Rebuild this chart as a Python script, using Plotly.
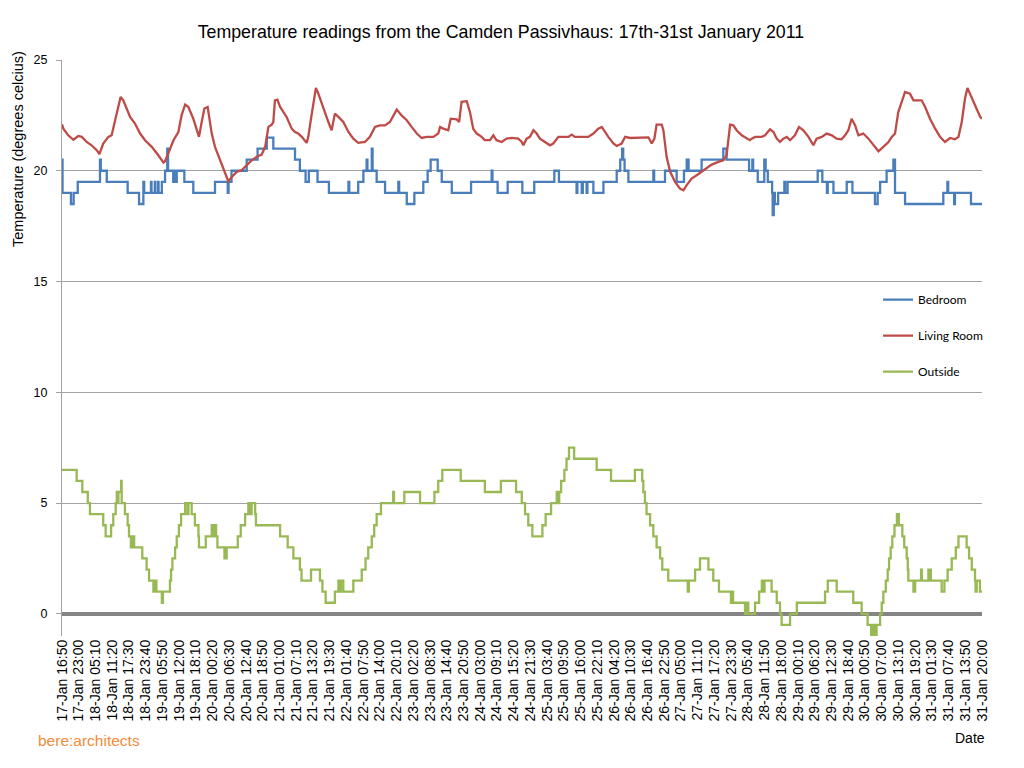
import pandas as pd
import plotly.graph_objects as go

START = "2011-01-17 16:50"
END = "2011-01-31 20:00"

# ---- Bedroom (hours since start, degrees C) ----
bed_hours = [0, 0.2, 3.3, 4.3, 5.8, 14.0, 14.3, 16.5, 24.2, 28.4, 30.0, 30.3, 32.8, 33.0, 34.2, 34.4,
             35.4, 35.6, 36.8, 38.0, 38.8, 39.1, 41.0, 41.3, 42.0, 42.3, 45.1, 48.4, 56.4, 61.1,
             61.4, 62.5, 68.1, 72.1, 75.5, 77.9, 85.9, 87.7, 89.8, 91.0, 94.2, 98.4, 105.6, 105.9,
             109.2, 111.1, 112.3, 112.6, 114.2, 114.5, 116.0, 119.1, 124.0, 124.3, 127.1, 129.9,
             133.2, 134.8, 135.9, 138.5, 140.0, 143.7, 150.8, 158.4, 158.7, 160.6, 164.3, 169.7,
             174.1, 181.5, 183.2, 189.7, 190.0, 191.6, 192.0, 193.4, 193.7, 195.9, 199.6, 204.5,
             205.8, 206.5, 206.9, 207.4, 208.8, 218.0, 218.3, 222.3, 226.6, 229.3, 230.3, 231.0,
             235.8, 243.8, 245.0, 253.3, 254.5, 254.8, 256.5, 258.9, 259.4, 260.2, 261.8, 262.0,
             262.4, 262.8, 264.0, 266.3, 266.6, 267.5, 278.6, 280.3, 282.0, 282.3, 284.4, 289.3,
             291.4, 299.7, 300.7, 301.6, 304.0, 306.5, 307.1, 310.8, 324.9, 326.4, 326.7, 328.9,
             329.2, 335.1, 339.17]
bed_temp = [20.5, 19, 18.5, 19, 19.5, 20.5, 20, 19.5, 19, 18.5, 19.5, 19, 19.5, 19, 19.5, 19,
            19.5, 19, 19.5, 20, 21, 20, 19.5, 20, 19.5, 20, 19.5, 19, 19.5, 19,
            19.5, 20, 20.5, 21, 21.5, 21, 20.5, 20, 19.5, 20, 19.5, 19, 19.5, 19,
            19.5, 20, 20.5, 20, 21, 20, 19.5, 19, 19.5, 19, 18.5, 19,
            19.5, 20, 20.5, 20, 19.5, 19, 19.5, 20, 19.5, 19, 19.5, 19,
            19.5, 20, 19.5, 19, 19.5, 19, 19.5, 19, 19.5, 19, 19.5, 20,
            20.5, 21, 20.5, 20, 19.5, 20, 19.5, 20, 19.5, 20, 20.5, 20,
            20.5, 21, 20.5, 20, 20.5, 20, 19.5, 20.5, 20, 19.5, 19, 18,
            19, 18.5, 19, 19.5, 19, 19.5, 20, 19.5, 19, 19.5, 19, 19.5,
            19, 18.5, 19, 19.5, 20, 20.5, 19, 18.5, 19, 19.5, 19, 18.5,
            19, 18.5, 18.5]

# ---- Living Room ----
liv_hours = [0, 0.5, 2.3, 4.2, 6.0, 7.3, 9.1, 10.9, 12.8, 13.8, 15.2, 17.1, 18.3, 19.5, 20.8, 21.6,
             22.6, 23.8, 25.1, 26.9, 28.8, 30.6, 33.1, 35.5, 37.4, 38.0, 39.2, 41.1, 42.9, 44.1,
             45.4, 46.6, 48.4, 49.7, 50.5, 51.5, 52.5, 53.7, 54.2, 55.2, 56.4, 58.3, 60.1, 61.3,
             62.6, 64.4, 66.2, 68.1, 69.9, 71.8, 73.6, 74.9, 76.1, 77.3, 77.9, 78.5, 79.4, 80.4,
             81.6, 82.8, 84.7, 85.9, 87.1, 88.4, 90.2, 90.8, 91.8, 92.7, 93.6, 94.5, 95.7, 97.0,
             98.2, 99.4, 100.6, 101.9, 103.7, 105.6, 107.4, 109.2, 111.7, 113.5, 115.4, 117.2,
             119.1, 120.9, 122.1, 123.4, 125.2, 127.1, 128.9, 130.8, 132.6, 134.4, 136.9, 138.7,
             139.4, 140.6, 142.4, 143.3, 145.5, 146.4, 147.3, 149.2, 150.4, 151.6, 152.9, 154.7,
             155.9, 157.8, 159.0, 160.2, 162.1, 163.9, 165.8, 168.2, 169.5, 170.1, 171.3, 172.5,
             173.8, 175.0, 176.2, 178.1, 179.9, 181.1, 183.0, 186.7, 187.9, 189.1, 194.0, 195.9,
             197.7, 199.0, 200.2, 201.4, 203.3, 204.5, 206.3, 207.6, 209.4, 211.2, 213.7, 216.2,
             217.4, 218.4, 219.2, 221.1, 221.7, 222.9, 224.2, 226.0, 227.8, 229.1, 230.3, 232.1,
             234.0, 235.8, 237.7, 239.5, 242.0, 243.8, 245.0, 246.3, 247.5, 248.7, 250.6, 252.4,
             253.6, 254.3, 255.5, 258.0, 259.2, 261.0, 262.3, 263.5, 264.7, 265.9, 267.2, 268.4,
             270.2, 271.7, 273.3, 275.2, 277.0, 278.2, 280.1, 281.9, 283.8, 285.6, 287.4, 288.7,
             289.9, 291.1, 292.4, 293.6, 295.4, 297.3, 299.1, 301.0, 302.8, 304.7, 305.9, 307.1,
             308.3, 309.6, 310.8, 312.6, 313.9, 315.7, 316.9, 318.2, 320.0, 321.9, 323.7, 325.5,
             327.4, 329.2, 330.5, 331.7, 332.9, 333.8, 334.8, 336.6, 338.5, 339.17]
liv_temp = [22.1, 21.9, 21.6, 21.4, 21.57, 21.53, 21.3, 21.15, 20.93, 20.75, 21.23, 21.53, 21.6, 22.2, 22.96, 23.33,
            23.18, 22.81, 22.43, 22.13, 21.68, 21.38, 21.08, 20.7, 20.37, 20.43, 20.78, 21.38, 21.75, 22.51,
            22.99, 22.88, 22.35, 21.9, 21.53, 22.2, 22.81, 22.88, 22.51, 21.68, 21.08, 20.47, 19.95, 19.53,
            19.72, 19.95, 20.02, 20.25, 20.47, 20.63, 20.73, 21.08, 21.98, 22.08, 22.2, 23.18, 23.21, 22.88,
            22.65, 22.43, 21.9, 21.75, 21.68, 21.53, 21.26, 21.53, 22.35, 22.96, 23.74, 23.48, 23.03, 22.65,
            22.2, 21.83, 22.58, 22.43, 22.2, 21.75, 21.45, 21.26, 21.3, 21.53, 21.98, 22.05,
            22.05, 22.2, 22.5, 22.76, 22.5, 22.28, 21.98, 21.68, 21.48, 21.53, 21.53, 21.68,
            21.98, 21.9, 21.83, 22.35, 22.32, 22.2, 23.11, 23.14, 22.65, 21.9, 21.68, 21.53,
            21.38, 21.38, 21.6, 21.38, 21.3, 21.45, 21.48, 21.45, 21.3, 21.15, 21.45, 21.53,
            21.83, 21.68, 21.45, 21.3, 21.15, 21.23, 21.53, 21.53, 21.63, 21.53, 21.53, 21.68,
            21.9, 21.98, 21.75, 21.53, 21.23, 21.12, 21.23, 21.53, 21.48, 21.48, 21.51, 21.51,
            21.23, 21.45, 22.08, 22.08, 21.83, 20.63, 19.95, 19.5, 19.2, 19.12, 19.35, 19.65,
            19.8, 19.95, 20.1, 20.28, 20.4, 20.47, 20.7, 22.08, 22.05, 21.83, 21.6, 21.45,
            21.38, 21.45, 21.53, 21.53, 21.6, 21.87, 21.75, 21.45, 21.3, 21.45, 21.53, 21.38,
            21.6, 21.98, 21.83, 21.53, 21.15, 21.45, 21.53, 21.68, 21.6, 21.45, 21.42, 21.6,
            21.83, 22.35, 22.05, 21.6, 21.68, 21.45, 21.15, 20.88, 21.08, 21.3, 21.53, 21.68,
            22.65, 23.18, 23.56, 23.48, 23.18, 23.18, 23.18, 22.88, 22.35, 21.9, 21.53, 21.3,
            21.48, 21.42, 21.53, 22.2, 23.26, 23.74, 23.48, 22.96, 22.43, 22.35]

# ---- Outside ----
out_hours = [0, 5.4, 7.5, 9.5, 10.3, 15.2, 16.1, 18.1, 18.9, 19.8, 20.2, 20.5, 20.8, 21.8, 22.0, 23.2,
             24.2, 24.7, 25.4, 25.7, 26.0, 26.3, 26.6, 29.6, 31.2, 32.1, 33.7, 34.3, 34.8, 36.8,
             37.2, 39.8, 40.2, 40.7, 41.7, 42.3, 43.1, 43.9, 45.4, 46.3, 46.6, 47.8, 49.0, 50.3,
             50.5, 53.0, 55.2, 55.6, 56.0, 56.8, 57.3, 59.9, 60.7, 64.8, 65.9, 67.5, 68.7, 69.5,
             69.9, 71.2, 71.5, 80.4, 83.2, 85.3, 87.7, 88.3, 91.8, 95.1, 96.0, 97.2, 100.6, 101.9,
             102.3, 102.8, 103.7, 107.4, 110.5, 111.9, 112.9, 114.2, 115.1, 116.0, 117.6, 122.1,
             122.4, 126.2, 132.0, 137.3, 138.7, 140.2, 147.0, 155.9, 161.8, 167.4, 169.5, 170.7,
             171.9, 173.4, 177.1, 178.3, 180.3, 182.4, 183.0, 183.3, 184.0, 185.2, 186.0, 186.9,
             188.8, 197.1, 202.4, 211.2, 213.9, 214.3, 214.9, 215.5, 216.8, 218.0, 219.2, 220.5,
             221.3, 223.5, 230.7, 231.1, 233.4, 235.2, 238.3, 240.1, 242.2, 246.6, 247.0, 247.4,
             251.8, 252.3, 253.0, 255.5, 257.0, 258.0, 258.6, 259.0, 261.6, 263.5, 264.7, 265.3,
             268.4, 270.9, 281.3, 282.3, 285.6, 291.7, 294.8, 297.0, 298.3, 298.9, 299.5, 300.3,
             301.6, 302.2, 302.8, 303.7, 304.4, 304.9, 305.5, 306.1, 306.9, 307.8, 308.5, 309.8,
             310.5, 311.4, 311.8, 312.0, 313.9, 314.5, 316.7, 317.0, 319.4, 319.7, 320.0, 320.3,
             324.3, 325.3, 326.5, 328.0, 329.5, 330.5, 333.5, 334.4, 335.4, 336.6, 336.8, 337.2,
             338.4, 339.17]
out_temp = [6.5, 6, 5.5, 5, 4.5, 4, 3.5, 4, 4.5, 5, 5.5, 5, 5.5, 6, 5, 4.5,
            4, 3.5, 3, 3.5, 3, 3.5, 3, 2.5, 2, 1.5, 1, 1.5, 1, 0.5,
            1, 1.5, 2, 2.5, 3, 3.5, 4, 4.5, 5, 4.5, 5, 4.5, 4, 3.5,
            3, 3.5, 4, 3.5, 4, 3.5, 3, 2.5, 3, 3.5, 4, 4.5, 5, 4.5,
            5, 4.5, 4, 3.5, 3, 2.5, 2, 1.5, 2, 1.5, 1, 0.5, 1, 1.5,
            1, 1.5, 1, 1.5, 2, 2.5, 3, 3.5, 4, 4.5, 5, 5.5,
            5, 5.5, 5, 5.5, 6, 6.5, 6, 5.5, 6, 5.5, 5, 4.5,
            4, 3.5, 4, 4.5, 5, 5.5, 5, 5.5, 6, 6.5, 7, 7.5,
            7, 6.5, 6, 6.5, 6, 5.5, 5, 4.5, 4, 3.5, 3, 2.5,
            2, 1.5, 1, 1.5, 2, 2.5, 2, 1.5, 1, 0.5, 1, 0.5,
            0, 0.5, 0, 0.5, 1, 1.5, 1, 1.5, 1, 0.5, 0, -0.5,
            0, 0.5, 1, 1.5, 1, 0.5, 0, -0.5, -1, -0.5, -1, -0.5,
            0, 0.5, 1, 1.5, 2, 2.5, 3, 3.5, 4, 4.5, 4, 3.5,
            3, 2.5, 2, 1.5, 1, 1.5, 2, 1.5, 2, 1.5, 2, 1.5,
            1, 1.5, 2, 2.5, 3, 3.5, 3, 2.5, 2, 1.5, 1, 1.5,
            1, 1]

y_ticks = [0, 5, 10, 15, 20, 25]

start = pd.Timestamp(START)


def to_time(hours):
    return [start + pd.Timedelta(hours=h) for h in hours]


fig = go.Figure()
fig.add_trace(go.Scatter(x=to_time(bed_hours), y=bed_temp, name="Bedroom", mode="lines",
                         line=dict(color="#4A7EBB", width=2.3, shape="hv"), legendgroup="a"))
fig.add_trace(go.Scatter(x=to_time(liv_hours), y=liv_temp, name="Living Room", mode="lines",
                         line=dict(color="#BE4B48", width=2.3), legendgroup="b"))
fig.add_trace(go.Scatter(x=to_time(out_hours), y=out_temp, name="Outside", mode="lines",
                         line=dict(color="#98B954", width=2.3, shape="hv"), legendgroup="c"))

# page body has an 8px margin; the figure is sized to sit inside the 1024x768 window
fig.update_layout(
    width=1008, height=752, autosize=False,
    margin=dict(l=54, r=34, t=52, b=124),
    paper_bgcolor="white", plot_bgcolor="white",
    font=dict(family="Liberation Sans, Arial, sans-serif", color="black"),
    title=dict(text="Temperature readings from the Camden Passivhaus: 17th-31st January 2011",
               x=0.489, xref="container", xanchor="center", y=0.968, yref="container",
               yanchor="middle",
               font=dict(size=17.8, family="Liberation Sans, Arial, sans-serif", color="black")),
    legend=dict(x=0.887, y=0.609, xanchor="left", yanchor="top", bgcolor="rgba(0,0,0,0)",
                font=dict(family="Lato, sans-serif", size=12, color="black"),
                tracegroupgap=17, traceorder="grouped"),
    showlegend=True,
    hovermode=False,
)

fig.update_xaxes(
    type="date", range=[START, END],
    tick0=START, dtick=370 * 60 * 1000, tickformat="%d-%b %H:%M",
    tickangle=-90, tickfont=dict(size=14, color="black"),
    showgrid=False, showline=False, zeroline=False, ticks="",
)

fig.update_yaxes(
    range=[-1, 25], tickmode="array", tickvals=y_ticks,
    tickfont=dict(size=12.5, color="black"),
    showgrid=True, gridcolor="#A3A3A3", gridwidth=1,
    zeroline=True, zerolinecolor="#858585", zerolinewidth=4,
    showline=True, linecolor="#A3A3A3", linewidth=1,
    ticks="outside", ticklen=5, tickcolor="#A3A3A3", ticklabelstandoff=6,
)

fig.add_annotation(text="Temperature (degrees celcius)", xref="paper", yref="paper",
                   x=-0.0478, y=0.8455, xanchor="center", yanchor="middle",
                   textangle=-90, showarrow=False, font=dict(size=14.5, color="black"))
fig.add_annotation(text="Date", xref="paper", yref="paper", x=0.987, y=-0.177,
                   xanchor="center", yanchor="middle",
                   showarrow=False, font=dict(size=14, color="black"))
fig.add_annotation(text="bere:architects", xref="paper", yref="paper", x=0.0293, y=-0.1806,
                   xanchor="center", yanchor="middle",
                   showarrow=False, font=dict(size=15.5, color="#F28C38"))

assert len(bed_hours) == len(bed_temp)
assert len(liv_hours) == len(liv_temp)
assert len(out_hours) == len(out_temp)

fig.write_html("out.html")
